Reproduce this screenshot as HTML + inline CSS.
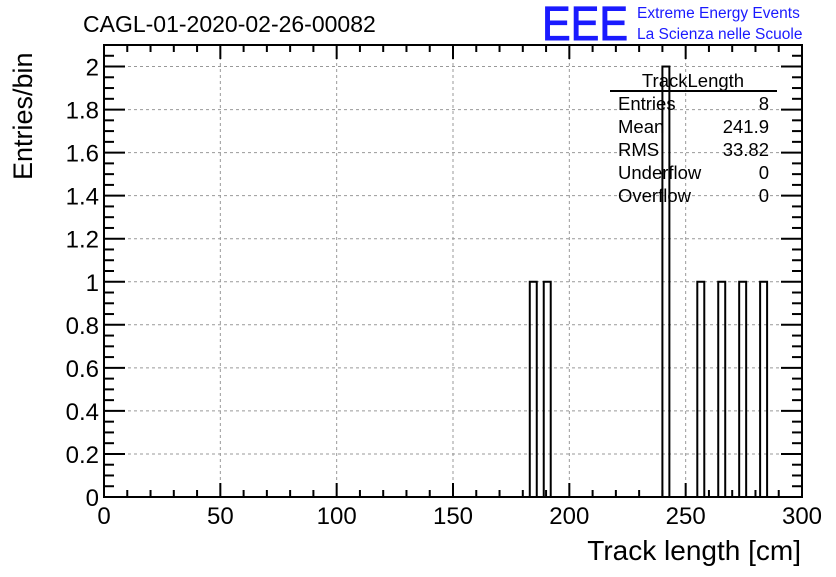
<!DOCTYPE html>
<html><head><meta charset="utf-8"><style>
body{margin:0;background:#fff;}
svg text{font-family:"Liberation Sans",sans-serif;}
</style></head><body>
<svg id="c" width="836" height="572" viewBox="0 0 836 572" xmlns="http://www.w3.org/2000/svg">
<rect width="836" height="572" fill="#fff"/>
<text x="83" y="32" font-size="23">CAGL-01-2020-02-26-00082</text>
<text x="542" y="40" font-size="48" fill="#1a1aff" stroke="#1a1aff" stroke-width="1" textLength="86" lengthAdjust="spacingAndGlyphs">EEE</text>
<text x="637" y="18" font-size="15.5" fill="#1a1aff">Extreme Energy Events</text>
<text x="637" y="39" font-size="15.5" fill="#1a1aff">La Scienza nelle Scuole</text>
<g id="grid"></g>
<g id="bars"></g>
<g id="axes"></g>
<text transform="translate(32,180) rotate(-90)" font-size="27">Entries/bin</text>
<text x="801" y="560" font-size="28" text-anchor="end">Track length [cm]</text>
<g>
<text x="693" y="87" font-size="18.5" text-anchor="middle">TrackLength</text>
<line x1="610" y1="91" x2="777" y2="91" stroke="#000" stroke-width="2"/>
<text x="618" y="110" font-size="18.5">Entries</text><text x="769" y="110" font-size="18.5" text-anchor="end">8</text>
<text x="618" y="133" font-size="18.5">Mean</text><text x="769" y="133" font-size="18.5" text-anchor="end">241.9</text>
<text x="618" y="156" font-size="18.5">RMS</text><text x="769" y="156" font-size="18.5" text-anchor="end">33.82</text>
<text x="618" y="179" font-size="18.5">Underflow</text><text x="769" y="179" font-size="18.5" text-anchor="end">0</text>
<text x="618" y="202" font-size="18.5">Overflow</text><text x="769" y="202" font-size="18.5" text-anchor="end">0</text>
</g>
</svg>
<script>
const binStarts=[183,189,240,255,264,273,282];
const binCounts=[1,1,2,1,1,1,1];
const binWidth=3;
const xTicks=[0,50,100,150,200,250,300];
const yTicks=[0,0.2,0.4,0.6,0.8,1,1.2,1.4,1.6,1.8,2];
const X0=104,X1=802,Y0=497,Y1=45,XMAX=300,YMAX=2.1;
const sx=v=>X0+(X1-X0)*v/XMAX, sy=v=>Y0-(Y0-Y1)*v/YMAX;
const NS="http://www.w3.org/2000/svg";
function mk(p,t,a){const e=document.createElementNS(NS,t);for(const k in a)e.setAttribute(k,a[k]);p.appendChild(e);return e;}
const grid=document.getElementById('grid'),bars=document.getElementById('bars'),axes=document.getElementById('axes');
xTicks.forEach(v=>{if(v>0&&v<XMAX){const l=mk(grid,'line',{x1:sx(v),x2:sx(v),y1:Y1,y2:Y0,stroke:'#999','stroke-dasharray':'3,3'});

}});
yTicks.forEach(v=>{if(v>0){const l=mk(grid,'line',{x1:X0,x2:X1,y1:sy(v),y2:sy(v),stroke:'#999','stroke-dasharray':'3,3'});

}});
binStarts.forEach((b,i)=>{const r=mk(bars,'rect',{x:sx(b),y:sy(binCounts[i]),width:sx(b+binWidth)-sx(b),height:Y0-sy(binCounts[i]),fill:'none',stroke:'#000','stroke-width':2});

});
const f=mk(axes,'rect',{x:X0,y:Y1,width:X1-X0,height:Y0-Y1,fill:'none',stroke:'#000','stroke-width':2});


for(let v=0;v<=XMAX;v+=10){const maj=v%50===0,len=maj?14:7;
mk(axes,'line',{x1:sx(v),x2:sx(v),y1:Y0,y2:Y0-len,stroke:'#000','stroke-width':2});
mk(axes,'line',{x1:sx(v),x2:sx(v),y1:Y1,y2:Y1+len,stroke:'#000','stroke-width':2});}
for(let k=0;k*0.05<=YMAX+1e-9;k++){const v=k*0.05,maj=k%4===0,len=maj?21:10;
mk(axes,'line',{x1:X0,x2:X0+len,y1:sy(v),y2:sy(v),stroke:'#000','stroke-width':2});
mk(axes,'line',{x1:X1,x2:X1-len,y1:sy(v),y2:sy(v),stroke:'#000','stroke-width':2});}
xTicks.forEach(v=>{const t=mk(axes,'text',{x:sx(v),y:524,'font-size':24,'text-anchor':'middle'});t.textContent=v;

});
yTicks.forEach(v=>{const t=mk(axes,'text',{x:99,y:sy(v)+9,'font-size':24,'text-anchor':'end'});t.textContent=String(+v.toFixed(1));

});
</script>
</body></html>
